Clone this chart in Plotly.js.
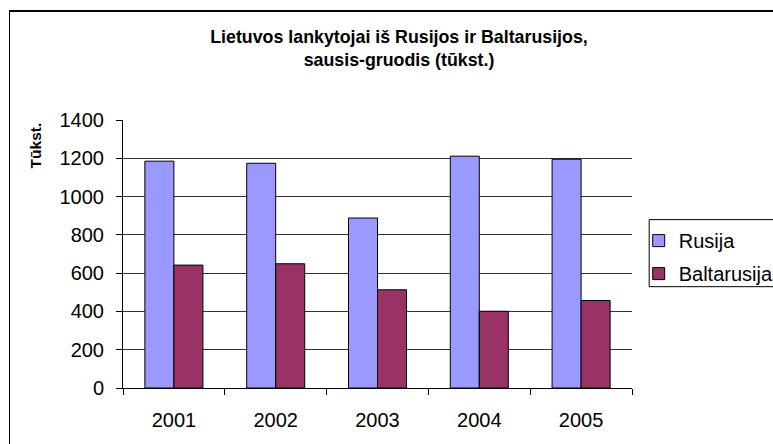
<!DOCTYPE html>
<html>
<head>
<meta charset="utf-8">
<script src="https://cdn.plot.ly/plotly-3.0.1.min.js"></script>
<style>
html,body{margin:0;padding:0;background:#fff;overflow:hidden;}
#wrap{position:relative;width:773px;height:444px;overflow:hidden;}
#chart{width:773px;height:444px;}
#frame{position:absolute;left:9px;top:10px;width:900px;height:600px;border-left:1px solid #000;border-top:2px solid #000;pointer-events:none;z-index:10;}
</style>
</head>
<body>
<div id="wrap"><div id="chart"></div><div id="frame"></div></div>
<script>
const years = ['2001', '2002', '2003', '2004', '2005'];
const rusija = [1185, 1174, 888, 1211, 1195];
const baltarusija = [642, 649, 513, 401, 457];
const seriesNames = ['Rusija', 'Baltarusija'];
const yTicks = [0, 200, 400, 600, 800, 1000, 1200, 1400];

const W = 773, H = 444;
const L = 122.7, R = 632.3, T = 120, B = 387.7;
const pw = R - L, ph = B - T;
const px = x => (x - L) / pw;
const py = y => (B - y) / ph;

const font = 'Liberation Sans, Arial, sans-serif';

const traces = [
  {type: 'bar', name: seriesNames[0], x: years, y: rusija, legendgroup: 'a',
   marker: {color: '#9999FF', line: {color: '#000', width: 1}}},
  {type: 'bar', name: seriesNames[1], x: years, y: baltarusija, legendgroup: 'b',
   marker: {color: '#993366', line: {color: '#000', width: 1}}}
];

const layout = {
  width: W, height: H,
  margin: {l: L, r: W - R, t: T, b: H - B, pad: 0, autoexpand: false},
  paper_bgcolor: '#fff', plot_bgcolor: '#fff',
  font: {family: font, size: 20, color: '#000'},
  barmode: 'group', bargap: 0.43, bargroupgap: 0,
  showlegend: true,
  title: {
    text: '<b>Lietuvos lankytojai iš Rusijos ir Baltarusijos,<br>sausis-gruodis (tūkst.)</b>',
    font: {family: font, size: 17.8, color: '#000'},
    xref: 'container', yref: 'container',
    x: 399 / W, xanchor: 'center',
    y: 1 - 43 / H, yanchor: 'top'
  },
  xaxis: {
    type: 'category', showgrid: false, zeroline: false,
    showline: true, linecolor: '#000', linewidth: 1,
    ticks: 'outside', tickson: 'boundaries', ticklen: 6, tickcolor: '#000',
    tickfont: {family: font, size: 20, color: '#000'},
    ticklabelstandoff: 14
  },
  yaxis: {
    range: [0, 1400], tickvals: yTicks, ticktext: yTicks.map(String),
    showgrid: true, gridcolor: '#333', gridwidth: 1, zeroline: false,
    showline: true, linecolor: '#000', linewidth: 1,
    ticks: 'outside', ticklen: 6, tickcolor: '#000',
    tickfont: {family: font, size: 20, color: '#000'},
    ticklabelstandoff: 8
  },
  legend: {
    x: px(639), y: py(221), xanchor: 'left', yanchor: 'top',
    bgcolor: 'rgba(0,0,0,0)', borderwidth: 0,
    font: {family: font, size: 20, color: '#000'},
    traceorder: 'grouped', itemclick: false, tracegroupgap: 4
  },
  annotations: [{
    text: '<b>Tūkst.</b>', textangle: -90,
    xref: 'paper', yref: 'paper', x: px(35), y: py(145),
    xanchor: 'center', yanchor: 'middle', showarrow: false,
    font: {family: font, size: 15.5, color: '#000'}
  }],
  shapes: [
    {type: 'rect', xref: 'paper', yref: 'paper',
     x0: px(649.5), y0: py(219.5), x1: px(800), y1: py(286.5),
     line: {color: '#000', width: 1}, fillcolor: 'rgba(0,0,0,0)', layer: 'below'}
  ]
};

Plotly.newPlot('chart', traces, layout, {displayModeBar: false, staticPlot: true});
</script>
</body>
</html>
